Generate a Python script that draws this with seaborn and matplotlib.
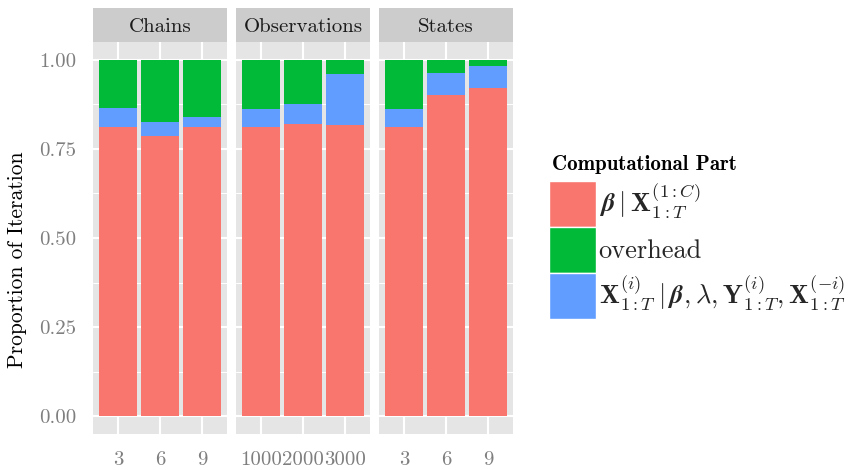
import numpy as np
import pandas as pd
import matplotlib
matplotlib.use("Agg")
import matplotlib.pyplot as plt
import seaborn as sns
from matplotlib.patches import Patch

sns.set_style("white")
plt.rcParams["font.family"] = ["cmr10", "DejaVu Serif"]
plt.rcParams["mathtext.fontset"] = "cm"
plt.rcParams["axes.formatter.use_mathtext"] = True

# facets and x categories
facets = ["Chains", "Observations", "States"]
chain_sizes = ["3", "6", "9"]
obs_sizes = ["1000", "2000", "3000"]
state_sizes = ["3", "6", "9"]

# share of one iteration per computational part
beta_chains = [0.812, 0.787, 0.812]
beta_obs = [0.811, 0.821, 0.817]
beta_states = [0.811, 0.902, 0.922]

latent_chains = [0.052, 0.039, 0.028]
latent_obs = [0.052, 0.055, 0.144]
latent_states = [0.052, 0.061, 0.061]

overhead_chains = [0.136, 0.174, 0.160]
overhead_obs = [0.137, 0.124, 0.039]
overhead_states = [0.137, 0.037, 0.017]

part_labels = [
    r"$\boldsymbol{\beta}\mid\mathbf{X}_{1:T}^{(1:C)}$",
    "overhead",
    r"$\mathbf{X}_{1:T}^{(i)}\mid\boldsymbol{\beta},\boldsymbol{\lambda},\mathbf{Y}_{1:T}^{(i)},\mathbf{X}_{1:T}^{(-i)}$",
]
part_colors = ["#F8766D", "#00BA38", "#619CFF"]

rows = []
for facet, sizes, b, l, o in [
    ("Chains", chain_sizes, beta_chains, latent_chains, overhead_chains),
    ("Observations", obs_sizes, beta_obs, latent_obs, overhead_obs),
    ("States", state_sizes, beta_states, latent_states, overhead_states),
]:
    for s, bv, lv, ov in zip(sizes, b, l, o):
        rows.append({"facet": facet, "size": s, "beta": bv, "latent": lv, "overhead": ov})
df = pd.DataFrame(rows)
# stacked: red bottom, blue middle, green on top
df["cum_beta"] = df["beta"]
df["cum_latent"] = df["beta"] + df["latent"]
df["cum_total"] = df["beta"] + df["latent"] + df["overhead"]

W, H = 866, 470
fig = plt.figure(figsize=(W / 100, H / 100), dpi=100)

panel_left = [93, 236, 379]
panel_w = 134
panel_top, panel_bottom = 42, 434
strip_top = 8
grey = "#7F7F7F"

for i, facet in enumerate(facets):
    sub = df[df["facet"] == facet]
    x0 = panel_left[i] / W
    ax = fig.add_axes([x0, (H - panel_bottom) / H, panel_w / W, (panel_bottom - panel_top) / H])
    ax.set_facecolor("#E5E5E5")
    order = list(sub["size"])
    for col, c in [("cum_total", part_colors[1]), ("cum_latent", part_colors[2]), ("cum_beta", part_colors[0])]:
        sns.barplot(data=sub, x="size", y=col, order=order, color=c, saturation=1,
                    width=0.9, errorbar=None, ax=ax, zorder=3, linewidth=0, edgecolor="none")
    ax.set_xlim(-0.595, 2.595)
    ax.set_ylim(-0.05, 1.05)
    ax.set_yticks([0, 0.25, 0.5, 0.75, 1.0])
    ax.set_yticks([0.125, 0.375, 0.625, 0.875], minor=True)
    ax.set_yticklabels(["0.00", "0.25", "0.50", "0.75", "1.00"])
    ax.grid(which="major", color="white", linewidth=1.5, zorder=0)
    ax.grid(which="minor", axis="y", color="white", linewidth=0.7, zorder=0)
    ax.set_axisbelow(True)
    ax.set_xlabel("")
    ax.set_ylabel("")
    for sp in ax.spines.values():
        sp.set_visible(False)
    ax.tick_params(axis="both", which="major", colors=grey, labelsize=15,
                   length=8, width=1.5, pad=4)
    ax.tick_params(axis="y", which="minor", length=0)
    if i > 0:
        ax.tick_params(axis="y", left=False, labelleft=False)

    sax = fig.add_axes([x0, (H - panel_top) / H, panel_w / W, (panel_top - strip_top) / H])
    sax.set_facecolor("#CCCCCC")
    sax.set_xticks([])
    sax.set_yticks([])
    for sp in sax.spines.values():
        sp.set_visible(False)
    sax.text(0.5, 0.45, facet, ha="center", va="center", fontsize=15, color="#1A1A1A",
             transform=sax.transAxes)

fig.text(17 / W, 1 - 260 / H, "Proportion of Iteration", rotation=90,
         ha="center", va="center", fontsize=15.5, color="black")

# legend title drawn as text so the gap above the keys matches
fig.text(552 / W, 1 - 164 / H, "Computational Part", ha="left", va="center",
         fontfamily="cmb10", fontsize=15, color="black")

handles = [Patch(facecolor=c, edgecolor="white", linewidth=1) for c in part_colors]
leg = fig.legend(handles, part_labels, loc="upper left", bbox_to_anchor=(549 / W, 1 - 181 / H),
                 frameon=False, fontsize=19,
                 handlelength=1.78, handleheight=2.30, handletextpad=0.1,
                 labelspacing=0.0, borderpad=0, borderaxespad=0)

fig.savefig("out.png", dpi=100)
